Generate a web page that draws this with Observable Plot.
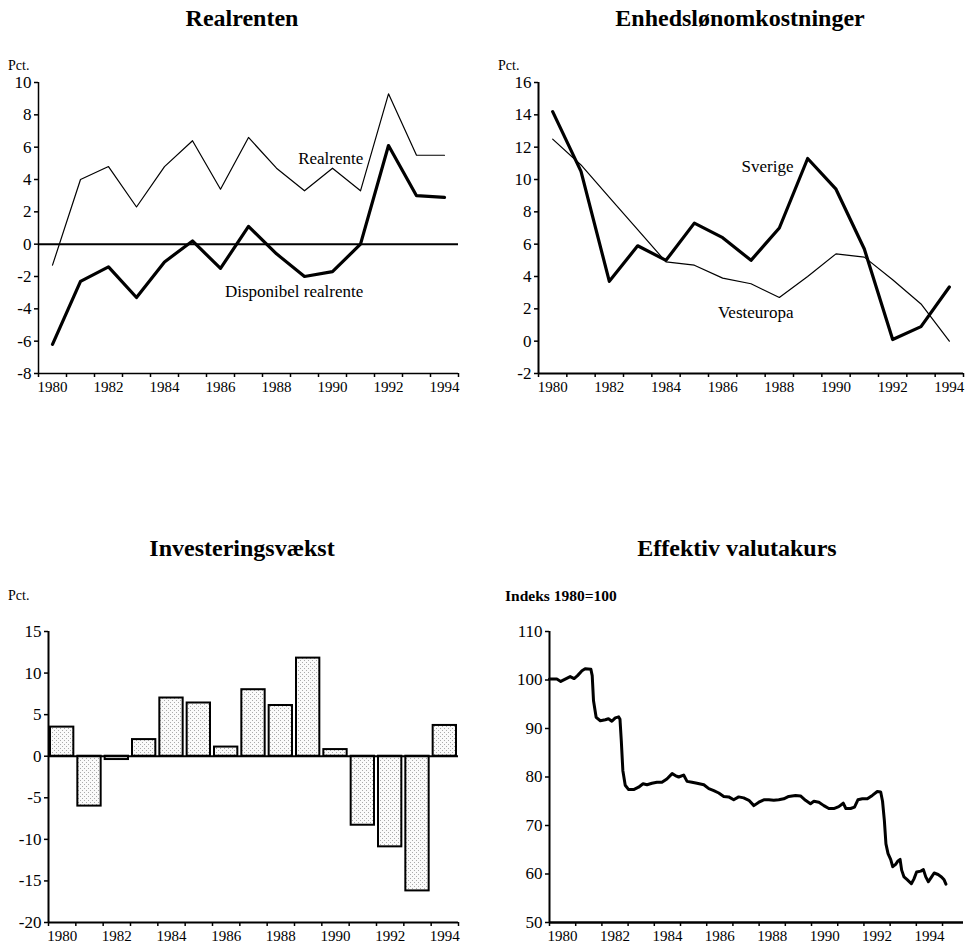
<!DOCTYPE html>
<html><head><meta charset="utf-8">
<script src="https://cdn.jsdelivr.net/npm/d3@7"></script>
<script src="https://cdn.jsdelivr.net/npm/@observablehq/plot@0.6"></script>
<style>
body{margin:0;background:#fff;width:969px;height:949px;position:relative;font-family:"Liberation Serif","Times New Roman",serif;color:#000;overflow:hidden}
.abs{position:absolute}
.title{font-weight:bold;font-size:24px;line-height:26px;text-align:center;width:480px}
.unit{font-size:14px;line-height:14px;white-space:nowrap}
</style></head><body>
<div class="abs title" style="left:2px;top:5px">Realrenten</div>
<div class="abs title" style="left:500px;top:5px">Enhedslønomkostninger</div>
<div class="abs title" style="left:2px;top:535px">Investeringsvækst</div>
<div class="abs title" style="left:497px;top:535px">Effektiv valutakurs</div>
<div class="abs unit" style="left:8px;top:59px">Pct.</div>
<div class="abs unit" style="left:498px;top:59px">Pct.</div>
<div class="abs unit" style="left:8px;top:589px">Pct.</div>
<div class="abs unit" style="left:505px;top:589px;font-weight:bold;font-size:15.5px">Indeks 1980=100</div>
<div id="p1" class="abs" style="left:0px;top:70px"></div>
<div id="p2" class="abs" style="left:490px;top:70px"></div>
<div id="p3" class="abs" style="left:0px;top:620px"></div>
<div id="p4" class="abs" style="left:490px;top:620px"></div>
<script>
// ---- data ----
const years = [1980,1981,1982,1983,1984,1985,1986,1987,1988,1989,1990,1991,1992,1993,1994];
const evenYears = [1980,1982,1984,1986,1988,1990,1992,1994];

const realrente      = [-1.3, 4.0, 4.8, 2.3, 4.8, 6.4, 3.4, 6.6, 4.7, 3.3, 4.7, 3.3, 9.3, 5.5, 5.5];
const dispRealrente  = [-6.2, -2.3, -1.4, -3.3, -1.1, 0.2, -1.5, 1.1, -0.6, -2.0, -1.7, 0.0, 6.1, 3.0, 2.9];

const sverige        = [14.2, 10.5, 3.7, 5.9, 5.0, 7.3, 6.4, 5.0, 7.0, 11.3, 9.4, 5.7, 0.1, 0.9, 3.35];
const vesteuropa     = [12.5, 10.9, 8.9, 6.9, 4.9, 4.7, 3.9, 3.55, 2.7, 4.0, 5.4, 5.2, 3.8, 2.3, 0.0];

const investering    = [3.5, -6.0, -0.4, 2.0, 7.0, 6.4, 1.1, 8.0, 6.1, 11.8, 0.8, -8.3, -10.9, -16.2, 3.7];

const valutaTid = [1980.00,1980.28,1980.43,1980.79,1980.94,1981.07,1981.24,1981.36,1981.58,1981.63,1981.68,1981.78,1981.94,
  1982.13,1982.25,1982.38,1982.51,1982.64,1982.69,1982.74,1982.80,1982.89,1983.02,1983.21,1983.40,1983.57,1983.72,1983.91,
  1984.10,1984.29,1984.48,1984.68,1984.80,1984.93,1985.12,1985.25,1985.44,1985.63,1985.89,1986.08,1986.27,1986.46,1986.65,
  1986.84,1987.03,1987.22,1987.41,1987.61,1987.80,1987.99,1988.18,1988.37,1988.56,1988.75,1988.94,1989.13,1989.39,1989.58,
  1989.77,1989.96,1990.09,1990.28,1990.47,1990.66,1990.85,1991.04,1991.21,1991.31,1991.49,1991.64,1991.77,1991.94,1992.13,
  1992.32,1992.51,1992.64,1992.71,1992.78,1992.84,1992.92,1993.02,1993.10,1993.21,1993.30,1993.38,1993.44,1993.53,1993.66,
  1993.81,1993.91,1994.01,1994.17,1994.27,1994.36,1994.46,1994.57,1994.68,1994.83,1994.96,1995.06,1995.13];
const valutaIndeks = [100.2,100.2,99.7,100.7,100.3,100.9,101.9,102.3,102.2,100.9,95.7,92.3,91.6,
  91.8,92.0,91.5,92.2,92.4,91.9,87.5,81.3,78.3,77.4,77.4,77.9,78.6,78.4,78.7,
  78.9,78.9,79.6,80.7,80.3,80.0,80.4,79.1,78.9,78.7,78.4,77.6,77.2,76.7,76.0,
  75.9,75.3,75.9,75.7,75.2,74.1,74.8,75.3,75.3,75.2,75.3,75.5,76.0,76.2,76.1,
  75.2,74.5,75.0,74.8,74.1,73.5,73.5,73.9,74.6,73.5,73.5,73.8,75.3,75.5,75.5,
  76.2,77.0,76.9,75.0,71.0,66.2,64.2,63.0,61.5,62.0,62.7,63.0,60.8,59.4,58.8,
  58.0,59.0,60.4,60.6,60.9,59.4,58.4,59.3,60.2,59.9,59.4,58.8,57.9];

const yTicksReal  = [-8,-6,-4,-2,0,2,4,6,8,10];
const yTicksLon   = [-2,0,2,4,6,8,10,12,14,16];
const yTicksInv   = [-20,-15,-10,-5,0,5,10,15];
const yTicksValut = [50,60,70,80,90,100,110];

const labelsReal = [{text:"Realrente", x:1991.1, y:5.3}, {text:"Disponibel realrente", x:1991.1, y:-2.9}];
const labelsLon  = [{text:"Sverige", x:1988.5, y:10.8}, {text:"Vesteuropa", x:1988.5, y:1.75}];

// ---- helpers ----
const font = "'Liberation Serif','Times New Roman',serif";
const baseStyle = {fontFamily: font, fontSize: "15px", color: "#000", background: "transparent", overflow: "visible"};
const bandEdges = d3.range(1979.5, 1995, 1);
const plain = d => String(d);

function yearAxes(xLabelTicks, fmt, edgeTicks) {
  return [
    Plot.axisX(edgeTicks, {tickSize: 4, strokeWidth: 1.5, tickFormat: () => "", label: null}),
    Plot.axisX(xLabelTicks, {tickSize: 0, tickPadding: 8, tickFormat: fmt, label: null, fontSize: 15})
  ];
}
function yAxis(ticks) {
  return Plot.axisY(ticks, {tickSize: 4, tickPadding: 3, strokeWidth: 1.5, label: null, fontSize: 17, tickFormat: plain});
}

// ---- 1: Realrenten ----
const p1 = Plot.plot({
  width: 480, height: 333, marginLeft: 38, marginRight: 22, marginTop: 12, marginBottom: 30,
  style: baseStyle,
  x: {domain: [1979.5, 1994.5]},
  y: {domain: [-8, 10]},
  marks: [
    yAxis(yTicksReal),
    ...yearAxes(evenYears, plain, bandEdges),
    Plot.ruleX([1979.5], {strokeWidth: 1.5}),
    Plot.ruleY([-8], {strokeWidth: 1.5}),
    Plot.ruleY([0], {strokeWidth: 2}),
    Plot.line(years, {x: years, y: realrente, stroke: "#000", strokeWidth: 1.2}),
    Plot.line(years, {x: years, y: dispRealrente, stroke: "#000", strokeWidth: 3.2}),
    Plot.text(labelsReal, {x: "x", y: "y", text: "text", textAnchor: "end", fontSize: 17, fill: "#000"})
  ]
});
document.getElementById("p1").appendChild(p1);

// ---- 2: Enhedslønomkostninger ----
const p2 = Plot.plot({
  width: 479, height: 333, marginLeft: 48, marginRight: 6, marginTop: 12, marginBottom: 30,
  style: baseStyle,
  x: {domain: [1979.5, 1994.5]},
  y: {domain: [-2, 16]},
  marks: [
    yAxis(yTicksLon),
    ...yearAxes(evenYears, plain, bandEdges),
    Plot.ruleX([1979.5], {strokeWidth: 2}),
    Plot.ruleY([-2], {strokeWidth: 2}),
    Plot.line(years, {x: years, y: vesteuropa, stroke: "#000", strokeWidth: 1.2}),
    Plot.line(years, {x: years, y: sverige, stroke: "#000", strokeWidth: 3.2}),
    Plot.text(labelsLon, {x: "x", y: "y", text: "text", textAnchor: "end", fontSize: 17, fill: "#000"})
  ]
});
document.getElementById("p2").appendChild(p2);

// ---- 3: Investeringsvækst ----
const p3 = Plot.plot({
  width: 470, height: 332, marginLeft: 48, marginRight: 12, marginTop: 11, marginBottom: 30,
  style: baseStyle,
  x: {domain: [1979.5, 1994.5]},
  y: {domain: [-20, 15]},
  marks: [
    yAxis(yTicksInv),
    ...yearAxes(evenYears, plain, bandEdges),
    Plot.rect(years, {
      x1: years.map(y => y - 0.5), x2: years.map(y => y + 0.5),
      y1: years.map(() => 0), y2: investering,
      insetLeft: 2, insetRight: 2,
      fill: "url(#stipple)", stroke: "#000", strokeWidth: 2
    }),
    Plot.ruleX([1979.5], {strokeWidth: 2}),
    Plot.ruleY([-20], {strokeWidth: 2}),
    Plot.ruleY([0], {strokeWidth: 2})
  ]
});
(function addPattern(svg) {
  const ns = "http://www.w3.org/2000/svg";
  const defs = document.createElementNS(ns, "defs");
  const pat = document.createElementNS(ns, "pattern");
  pat.setAttribute("id", "stipple");
  pat.setAttribute("width", "4");
  pat.setAttribute("height", "4");
  pat.setAttribute("patternUnits", "userSpaceOnUse");
  const bg = document.createElementNS(ns, "rect");
  bg.setAttribute("width", "4"); bg.setAttribute("height", "4"); bg.setAttribute("fill", "#fafafa");
  pat.appendChild(bg);
  [[0, 0], [2, 2]].forEach(([x, y]) => {
    const r = document.createElementNS(ns, "rect");
    r.setAttribute("x", x); r.setAttribute("y", y);
    r.setAttribute("width", "1"); r.setAttribute("height", "1"); r.setAttribute("fill", "#aaa");
    pat.appendChild(r);
  });
  defs.appendChild(pat);
  svg.insertBefore(defs, svg.firstChild);
})(p3);
document.getElementById("p3").appendChild(p3);

// ---- 4: Effektiv valutakurs ----
const p4 = Plot.plot({
  width: 479, height: 332, marginLeft: 59, marginRight: 6, marginTop: 11, marginBottom: 30,
  style: baseStyle,
  x: {domain: [1980, 1995.8]},
  y: {domain: [50, 110]},
  marks: [
    yAxis(yTicksValut),
    ...yearAxes(evenYears.map(y => y + 0.5), d => String(d - 0.5), d3.range(1980, 1996, 1)),
    Plot.ruleX([1980], {strokeWidth: 2}),
    Plot.ruleY([50], {strokeWidth: 2.5}),
    Plot.line(valutaTid, {x: valutaTid, y: valutaIndeks, stroke: "#000", strokeWidth: 3})
  ]
});
document.getElementById("p4").appendChild(p4);
</script>
</body></html>
